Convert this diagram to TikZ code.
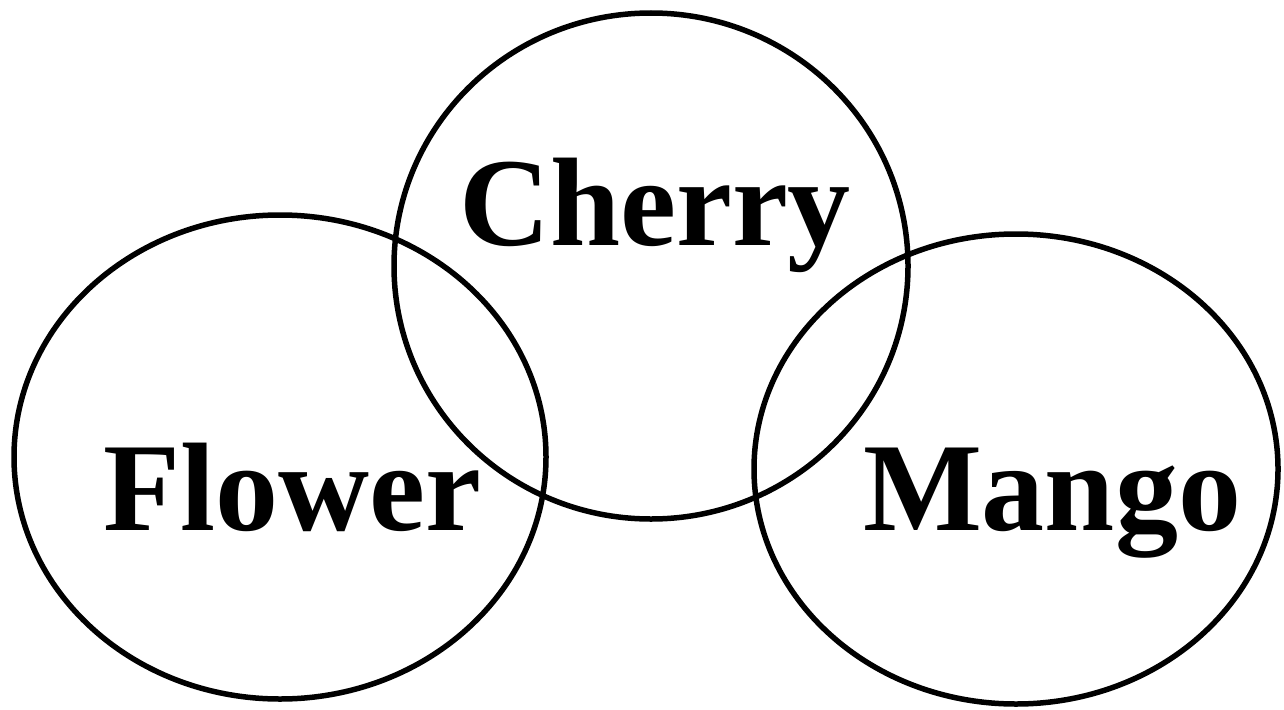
\documentclass[tikz,border=0pt]{standalone}
\usepackage{fontspec}
\setmainfont{Liberation Serif}
\begin{document}
\begin{tikzpicture}[x=1pt,y=-1pt,
  ring/.style={draw=black,line width=5.5pt,fill=none},
  lbl/.style={font=\fontsize{126}{140}\selectfont\bfseries,anchor=base,inner sep=0pt}]
\useasboundingbox (0,0) rectangle (1284,709);
\draw[ring] (280,457) ellipse [x radius=266, y radius=242];
\draw[ring] (651,266) ellipse [x radius=257, y radius=253];
\draw[ring] (1016,469) ellipse [x radius=262, y radius=235];
\node[lbl] (cherry) at (655,245) {Cherry};
\node[lbl] (flower) at (292,530) {Flower};
\node[lbl] (mango) at (1052,530) {Mango};
\end{tikzpicture}
\end{document}
